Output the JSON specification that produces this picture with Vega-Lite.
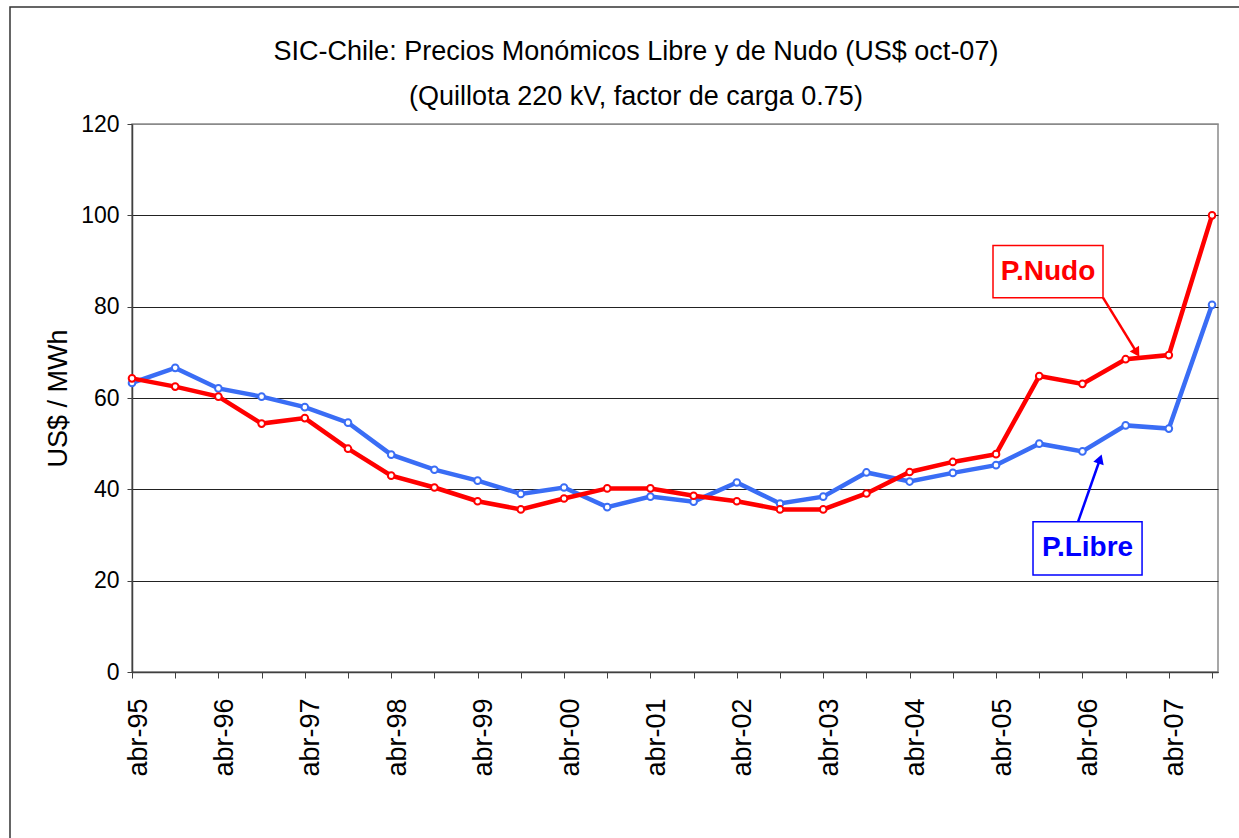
{
  "$schema": "https://vega.github.io/schema/vega-lite/v6.json",
  "width": 1086,
  "height": 548,
  "autosize": {"type": "none"},
  "padding": {"left": 132, "top": 124, "right": 21, "bottom": 166},
  "background": "white",
  "title": {
    "text": ["SIC-Chile: Precios Monómicos Libre y de Nudo (US$ oct-07)", "(Quillota 220 kV, factor de carga 0.75)"],
    "font": "Liberation Sans, Arial, sans-serif",
    "fontSize": 27,
    "fontWeight": "normal",
    "color": "black",
    "anchor": "middle",
    "frame": "group",
    "dx": -39,
    "offset": -105,
    "lineHeight": 45
  },
  "config": {
    "view": {"stroke": "#8a8a8a", "strokeWidth": 1.5},
    "font": "Liberation Sans, Arial, sans-serif"
  },
  "datasets": {
    "precios": [
      {"periodo": "abr-95", "t": 1995.25, "serie": "P.Libre", "precio": 63.3},
      {"periodo": "oct-95", "t": 1995.75, "serie": "P.Libre", "precio": 66.6},
      {"periodo": "abr-96", "t": 1996.25, "serie": "P.Libre", "precio": 62.1},
      {"periodo": "oct-96", "t": 1996.75, "serie": "P.Libre", "precio": 60.3},
      {"periodo": "abr-97", "t": 1997.25, "serie": "P.Libre", "precio": 58.0},
      {"periodo": "oct-97", "t": 1997.75, "serie": "P.Libre", "precio": 54.6},
      {"periodo": "abr-98", "t": 1998.25, "serie": "P.Libre", "precio": 47.6},
      {"periodo": "oct-98", "t": 1998.75, "serie": "P.Libre", "precio": 44.3},
      {"periodo": "abr-99", "t": 1999.25, "serie": "P.Libre", "precio": 41.9},
      {"periodo": "oct-99", "t": 1999.75, "serie": "P.Libre", "precio": 39.0},
      {"periodo": "abr-00", "t": 2000.25, "serie": "P.Libre", "precio": 40.4},
      {"periodo": "oct-00", "t": 2000.75, "serie": "P.Libre", "precio": 36.1},
      {"periodo": "abr-01", "t": 2001.25, "serie": "P.Libre", "precio": 38.4},
      {"periodo": "oct-01", "t": 2001.75, "serie": "P.Libre", "precio": 37.3},
      {"periodo": "abr-02", "t": 2002.25, "serie": "P.Libre", "precio": 41.5},
      {"periodo": "oct-02", "t": 2002.75, "serie": "P.Libre", "precio": 36.9},
      {"periodo": "abr-03", "t": 2003.25, "serie": "P.Libre", "precio": 38.4},
      {"periodo": "oct-03", "t": 2003.75, "serie": "P.Libre", "precio": 43.7},
      {"periodo": "abr-04", "t": 2004.25, "serie": "P.Libre", "precio": 41.7},
      {"periodo": "oct-04", "t": 2004.75, "serie": "P.Libre", "precio": 43.6},
      {"periodo": "abr-05", "t": 2005.25, "serie": "P.Libre", "precio": 45.3},
      {"periodo": "oct-05", "t": 2005.75, "serie": "P.Libre", "precio": 50.0},
      {"periodo": "abr-06", "t": 2006.25, "serie": "P.Libre", "precio": 48.3},
      {"periodo": "oct-06", "t": 2006.75, "serie": "P.Libre", "precio": 54.0},
      {"periodo": "abr-07", "t": 2007.25, "serie": "P.Libre", "precio": 53.3},
      {"periodo": "oct-07", "t": 2007.75, "serie": "P.Libre", "precio": 80.4},
      {"periodo": "abr-95", "t": 1995.25, "serie": "P.Nudo", "precio": 64.3},
      {"periodo": "oct-95", "t": 1995.75, "serie": "P.Nudo", "precio": 62.5},
      {"periodo": "abr-96", "t": 1996.25, "serie": "P.Nudo", "precio": 60.3},
      {"periodo": "oct-96", "t": 1996.75, "serie": "P.Nudo", "precio": 54.4},
      {"periodo": "abr-97", "t": 1997.25, "serie": "P.Nudo", "precio": 55.6},
      {"periodo": "oct-97", "t": 1997.75, "serie": "P.Nudo", "precio": 48.9},
      {"periodo": "abr-98", "t": 1998.25, "serie": "P.Nudo", "precio": 43.0},
      {"periodo": "oct-98", "t": 1998.75, "serie": "P.Nudo", "precio": 40.4},
      {"periodo": "abr-99", "t": 1999.25, "serie": "P.Nudo", "precio": 37.4},
      {"periodo": "oct-99", "t": 1999.75, "serie": "P.Nudo", "precio": 35.6},
      {"periodo": "abr-00", "t": 2000.25, "serie": "P.Nudo", "precio": 38.0},
      {"periodo": "oct-00", "t": 2000.75, "serie": "P.Nudo", "precio": 40.2},
      {"periodo": "abr-01", "t": 2001.25, "serie": "P.Nudo", "precio": 40.2},
      {"periodo": "oct-01", "t": 2001.75, "serie": "P.Nudo", "precio": 38.6},
      {"periodo": "abr-02", "t": 2002.25, "serie": "P.Nudo", "precio": 37.4},
      {"periodo": "oct-02", "t": 2002.75, "serie": "P.Nudo", "precio": 35.6},
      {"periodo": "abr-03", "t": 2003.25, "serie": "P.Nudo", "precio": 35.6},
      {"periodo": "oct-03", "t": 2003.75, "serie": "P.Nudo", "precio": 39.1},
      {"periodo": "abr-04", "t": 2004.25, "serie": "P.Nudo", "precio": 43.8},
      {"periodo": "oct-04", "t": 2004.75, "serie": "P.Nudo", "precio": 46.0},
      {"periodo": "abr-05", "t": 2005.25, "serie": "P.Nudo", "precio": 47.7},
      {"periodo": "oct-05", "t": 2005.75, "serie": "P.Nudo", "precio": 64.8},
      {"periodo": "abr-06", "t": 2006.25, "serie": "P.Nudo", "precio": 63.1},
      {"periodo": "oct-06", "t": 2006.75, "serie": "P.Nudo", "precio": 68.5},
      {"periodo": "abr-07", "t": 2007.25, "serie": "P.Nudo", "precio": 69.4},
      {"periodo": "oct-07", "t": 2007.75, "serie": "P.Nudo", "precio": 100.0}
    ]
  },
  "layer": [
    {
      "data": {"values": [{}]},
      "mark": {"type": "rect", "fill": null, "stroke": "#333333", "strokeWidth": 1.5, "clip": false},
      "encoding": {
        "x": {"datum": 1993.838, "type": "quantitative"},
        "x2": {"datum": 2010},
        "y": {"datum": 145.6, "type": "quantitative"},
        "y2": {"datum": -60}
      }
    },
    {
      "data": {"name": "precios"},
      "mark": {"type": "line", "strokeWidth": 4.5},
      "encoding": {
        "x": {
          "field": "t",
          "type": "quantitative",
          "scale": {"domain": [1995.25, 2007.819], "nice": false, "zero": false},
          "axis": {
            "title": null,
            "values": [1995.25, 1995.75, 1996.25, 1996.75, 1997.25, 1997.75, 1998.25, 1998.75, 1999.25, 1999.75, 2000.25, 2000.75, 2001.25, 2001.75, 2002.25, 2002.75, 2003.25, 2003.75, 2004.25, 2004.75, 2005.25, 2005.75, 2006.25, 2006.75, 2007.25, 2007.75],
            "labelExpr": "(datum.value % 1) < 0.5 ? 'abr-' + slice('0' + floor(datum.value % 100), -2) : ''",
            "labelAngle": 270,
            "labelFontSize": 27,
            "labelColor": "black",
            "labelPadding": 20,
            "labelOffset": 6,
            "labelFlush": false,
            "labelOverlap": false,
            "labelBound": false,
            "tickSize": 6,
            "tickColor": "#404040",
            "domainColor": "#404040",
            "domainWidth": 1.5,
            "grid": false
          }
        },
        "y": {
          "field": "precio",
          "type": "quantitative",
          "scale": {"domain": [0, 120], "nice": false},
          "axis": {
            "title": "US$ / MWh",
            "titleFontSize": 27,
            "titleFontWeight": "normal",
            "titleColor": "black",
            "titlePadding": 8,
            "values": [0, 20, 40, 60, 80, 100, 120],
            "labelFontSize": 23,
            "labelColor": "black",
            "labelPadding": 8,
            "labelFlush": false,
            "tickSize": 5,
            "tickColor": "#404040",
            "domainColor": "#404040",
            "domainWidth": 1.5,
            "grid": true,
            "gridColor": {"condition": {"test": "datum.value == 120", "value": "#8a8a8a"}, "value": "#222222"},
            "gridWidth": 1.2
          }
        },
        "color": {
          "field": "serie",
          "type": "nominal",
          "scale": {"domain": ["P.Libre", "P.Nudo"], "range": ["#3a6df5", "#ff0000"]},
          "legend": null
        }
      }
    },
    {
      "data": {"name": "precios"},
      "mark": {"type": "point", "filled": false, "fill": "white", "size": 44, "strokeWidth": 2, "opacity": 1},
      "encoding": {
        "x": {"field": "t", "type": "quantitative"},
        "y": {"field": "precio", "type": "quantitative"},
        "color": {"field": "serie", "type": "nominal", "legend": null}
      }
    },
    {
      "data": {"values": [{}]},
      "mark": {"type": "rule", "stroke": "#ff0000", "strokeWidth": 2.5},
      "encoding": {
        "x": {"datum": 2006.488, "type": "quantitative"},
        "y": {"datum": 81.97, "type": "quantitative"},
        "x2": {"datum": 2006.88},
        "y2": {"datum": 69.94}
      }
    },
    {
      "data": {"values": [{}]},
      "mark": {"type": "point", "shape": "triangle-up", "filled": true, "color": "#ff0000", "size": 120, "angle": 148, "opacity": 1},
      "encoding": {
        "x": {"datum": 2006.88, "type": "quantitative"},
        "y": {"datum": 69.94, "type": "quantitative"}
      }
    },
    {
      "data": {"values": [{}]},
      "mark": {"type": "rect", "fill": "white", "stroke": "#ff0000", "strokeWidth": 1.5},
      "encoding": {
        "x": {"datum": 2005.215, "type": "quantitative"},
        "x2": {"datum": 2006.488},
        "y": {"datum": 93.37, "type": "quantitative"},
        "y2": {"datum": 81.97}
      }
    },
    {
      "data": {"values": [{}]},
      "mark": {"type": "text", "text": "P.Nudo", "color": "#ff0000", "fontSize": 28, "fontWeight": "bold", "align": "center", "baseline": "middle"},
      "encoding": {
        "x": {"datum": 2005.852, "type": "quantitative"},
        "y": {"datum": 87.67, "type": "quantitative"}
      }
    },
    {
      "data": {"values": [{}]},
      "mark": {"type": "rule", "stroke": "#0000ff", "strokeWidth": 2.5},
      "encoding": {
        "x": {"datum": 2006.199, "type": "quantitative"},
        "y": {"datum": 32.88, "type": "quantitative"},
        "x2": {"datum": 2006.454},
        "y2": {"datum": 46.64}
      }
    },
    {
      "data": {"values": [{}]},
      "mark": {"type": "point", "shape": "triangle-up", "filled": true, "color": "#0000ff", "size": 120, "angle": 19.4, "opacity": 1},
      "encoding": {
        "x": {"datum": 2006.454, "type": "quantitative"},
        "y": {"datum": 46.64, "type": "quantitative"}
      }
    },
    {
      "data": {"values": [{}]},
      "mark": {"type": "rect", "fill": "white", "stroke": "#0000ff", "strokeWidth": 1.5},
      "encoding": {
        "x": {"datum": 2005.678, "type": "quantitative"},
        "x2": {"datum": 2006.94},
        "y": {"datum": 32.88, "type": "quantitative"},
        "y2": {"datum": 21.26}
      }
    },
    {
      "data": {"values": [{}]},
      "mark": {"type": "text", "text": "P.Libre", "color": "#0000ff", "fontSize": 28, "fontWeight": "bold", "align": "center", "baseline": "middle"},
      "encoding": {
        "x": {"datum": 2006.309, "type": "quantitative"},
        "y": {"datum": 27.07, "type": "quantitative"}
      }
    }
  ]
}
